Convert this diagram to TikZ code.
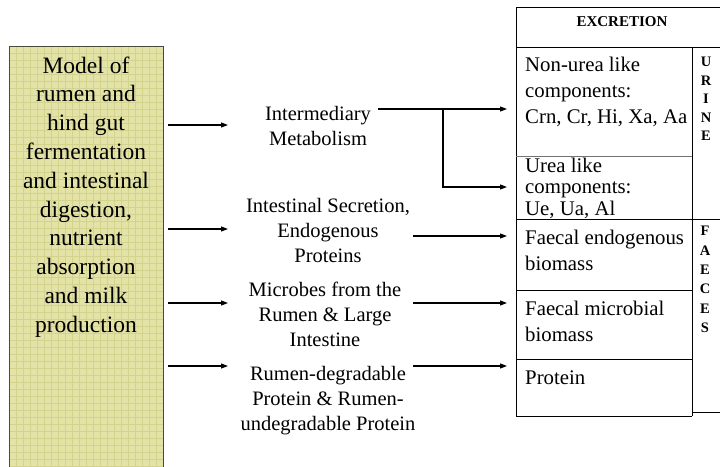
\documentclass[tikz,border=0pt]{standalone}
\usepackage{fontspec}
\setmainfont{Liberation Serif}
\usetikzlibrary{arrows.meta}
\definecolor{boxfill}{HTML}{E3E3A8}
\definecolor{gridc}{HTML}{D3D38E}
\definecolor{boxedge}{HTML}{4A4A3A}
\begin{document}
\begin{tikzpicture}[x=1pt,y=-1pt,
  arr/.style={line width=1.1pt,-{Triangle[length=7pt,width=5pt]}},
  ln/.style={line width=0.9pt},
  mid/.style={align=center,font=\fontsize{20.5}{25}\selectfont,inner sep=0pt},
  cell/.style={align=left,anchor=west,font=\fontsize{20.8}{26}\selectfont,inner sep=0pt},
  vlab/.style={align=center,font=\fontsize{14.5}{18.5}\selectfont\bfseries,inner sep=0pt}]
\useasboundingbox (0,0) rectangle (720,466);

% left box
\node[draw=boxedge,line width=1pt,fill=boxfill,minimum width=154pt,minimum height=430pt,
  anchor=north west,inner sep=0pt,
  path picture={
    \foreach \k in {1,...,22}
      \draw[gridc,line width=0.5pt] ([xshift=\k*7pt]path picture bounding box.north west) -- ([xshift=\k*7pt]path picture bounding box.south west);
    \foreach \k in {1,...,61}
      \draw[gridc,line width=0.5pt] ([yshift=-\k*7pt]path picture bounding box.north west) -- ([yshift=-\k*7pt]path picture bounding box.north east);
  }] (lbox) at (9,46) {};
\node[font=\fontsize{23.5}{28.8}\selectfont,align=center,inner sep=0pt] (ltext) at (86,197)
  {Model of\\rumen and\\hind gut\\fermentation\\and intestinal\\digestion,\\nutrient\\absorption\\and milk\\production};

% middle texts
\node[mid] (m1) at (318,125.5) {Intermediary\\Metabolism};
\node[mid] (m2) at (328,230) {Intestinal Secretion,\\Endogenous\\Proteins};
\node[mid] (m3) at (325,314) {Microbes from the\\Rumen \& Large\\Intestine};
\node[mid] (m4) at (328,401) {Rumen-degradable\\Protein \& Rumen-\\undegradable Protein};

% left arrows
\coordinate (a1s) at (168,125); \coordinate (a1e) at (228,125);
\coordinate (a2s) at (168,229); \coordinate (a2e) at (228,229);
\coordinate (a3s) at (168,303); \coordinate (a3e) at (228,303);
\coordinate (a4s) at (168,366); \coordinate (a4e) at (228,366);
\draw[arr] (a1s) -- (a1e);
\draw[arr] (a2s) -- (a2e);
\draw[arr] (a3s) -- (a3e);
\draw[arr] (a4s) -- (a4e);

% right arrows
\coordinate (b1s) at (378,109); \coordinate (b1e) at (507,109);
\coordinate (br) at (443,109); \coordinate (b5e) at (507,187);
\coordinate (b2s) at (413,236); \coordinate (b2e) at (507,236);
\coordinate (b3s) at (413,303); \coordinate (b3e) at (507,303);
\coordinate (b4s) at (413,366); \coordinate (b4e) at (507,366);
\draw[arr] (b1s) -- (b1e);
\draw[arr] (br) |- (b5e);
\draw[arr] (b2s) -- (b2e);
\draw[arr] (b3s) -- (b3e);
\draw[arr] (b4s) -- (b4e);

% table
\draw[ln] (516,7) -- (720,7);
\draw[ln] (516,7) -- (516,416) -- (692,416);
\draw[ln] (516,47) -- (720,47);
\draw[ln] (692,47) -- (692,416);
\draw[ln] (692,412) -- (720,412);
\draw[line width=0.7pt,black!55] (516,156) -- (692,156);
\draw[ln] (516,219) -- (720,219);
\draw[ln] (516,290) -- (692,290);
\draw[ln] (516,359) -- (692,359);

\node[font=\fontsize{15}{17}\selectfont\bfseries,inner sep=0pt] (exc) at (622,22) {EXCRETION};
\node[cell] (c1) at (525,91.5) {Non-urea like\\components:\\Crn, Cr, Hi, Xa, Aa};
\node[cell,font=\fontsize{20.8}{21.5}\selectfont] (c2) at (525,188) {Urea like\\components:\\Ue, Ua, Al};
\node[cell] (c3) at (525,250) {Faecal endogenous\\biomass};
\node[cell] (c4) at (525,321.5) {Faecal microbial\\biomass};
\node[cell] (c5) at (525,378) {Protein};
\node[vlab] (ur) at (706,99) {U\\R\\I\\N\\E};
\node[vlab,font=\fontsize{14.5}{19.4}\selectfont\bfseries] (fa) at (705,279.5) {F\\A\\E\\C\\E\\S};
\end{tikzpicture}
\end{document}
